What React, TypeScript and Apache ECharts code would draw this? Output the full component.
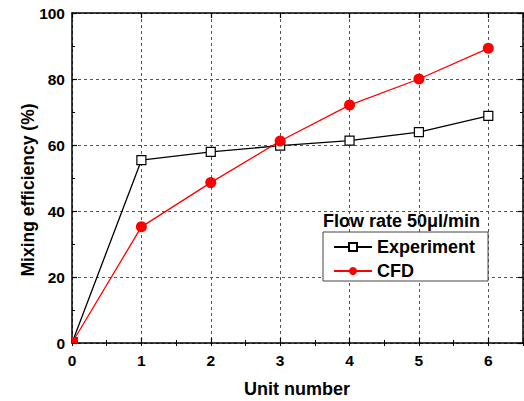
import React, { useEffect, useRef } from "react";
import * as echarts from "echarts";

const unitNumbers = [0, 1, 2, 3, 4, 5, 6];
const experiment = [0, 55.4, 57.9, 59.8, 61.3, 63.9, 68.8];
const cfd = [0, 35.2, 48.6, 61.2, 72.1, 80.0, 89.3];
const seriesNames = ["Experiment", "CFD"];
const legendTitle = "Flow rate 50\u03bcl/min";
const xTitle = "Unit number";
const yTitle = "Mixing efficiency (%)";

const FONT = "'Liberation Sans', Arial, sans-serif";

export default function App() {
  const ref = useRef<HTMLDivElement>(null);
  useEffect(() => {
    if (!ref.current) return;
    const chart = echarts.init(ref.current, null, { renderer: "svg" });
    const dashed = { show: true, lineStyle: { color: "#555", type: [3, 3] as any, width: 1 } };
    const axisLine = { show: true, onZero: false, lineStyle: { color: "#000", width: 1.5 } };
    const baseX = { type: "value" as const, min: 0, max: 6.5, interval: 1 };
    const minorX = { ...baseX, interval: 0.5, axisLine: { show: false }, axisLabel: { show: false }, splitLine: { show: false }, axisTick: { show: true, inside: true, length: 3, lineStyle: { color: "#000", width: 1 } } };
    const mk = (vals: number[], isCfd: boolean) =>
      unitNumbers.map((x, i) => {
        if (i === 0) {
          return isCfd
            ? { value: [x, vals[i]], symbol: "rect", symbolSize: 6, symbolOffset: [3, -3] }
            : { value: [x, vals[i]], symbol: "none" };
        }
        return { value: [x, vals[i]] };
      });
    chart.setOption({
      animation: false,
      grid: { left: 72, right: 1, top: 13, bottom: 58, containLabel: false },
      xAxis: [
        {
          ...baseX,
          position: "bottom",
          axisLine,
          axisTick: { show: true, inside: true, length: 5, lineStyle: { color: "#000", width: 1.2 } },
          axisLabel: { show: true, margin: 9, fontSize: 15.5, fontWeight: "bold", color: "#000", fontFamily: FONT, showMaxLabel: false },
          splitLine: dashed,
        },
        {
          ...baseX,
          position: "top",
          axisLine,
          axisTick: { show: true, inside: true, length: 5, lineStyle: { color: "#000", width: 1.2 } },
          axisLabel: { show: false },
          splitLine: { show: false },
        },
        { ...minorX, position: "bottom" },
        { ...minorX, position: "top" },
      ],
      yAxis: [
        {
          type: "value",
          min: 0,
          max: 100,
          interval: 20,
          position: "left",
          axisLine,
          axisTick: { show: true, inside: true, length: 5, lineStyle: { color: "#000", width: 1.2 } },
          minorTick: { show: true, splitNumber: 2, length: 3, lineStyle: { color: "#000", width: 1 } },
          axisLabel: { show: true, margin: 7, fontSize: 15.5, fontWeight: "bold", color: "#000", fontFamily: FONT },
          splitLine: dashed,
        },
        {
          type: "value",
          min: 0,
          max: 100,
          interval: 20,
          position: "right",
          axisLine,
          axisTick: { show: true, inside: true, length: 5, lineStyle: { color: "#000", width: 1.2 } },
          minorTick: { show: true, splitNumber: 2, length: 3, lineStyle: { color: "#000", width: 1 } },
          axisLabel: { show: false },
          splitLine: { show: false },
        },
      ],
      legend: {
        show: true,
        left: 323,
        top: 232,
        orient: "vertical",
        data: seriesNames,
        backgroundColor: "#fff",
        borderColor: "#444",
        borderWidth: 1,
        borderRadius: 0,
        padding: [5, 13, 0, 10],
        itemGap: 4,
        itemWidth: 38,
        itemHeight: 10,
        textStyle: { fontSize: 18, fontWeight: "bold", color: "#000", fontFamily: FONT, lineHeight: 20 },
      },
      graphic: [
        {
          type: "text",
          x: 323,
          y: 221,
          style: { text: legendTitle, fontSize: 18, fontWeight: "bold", fill: "#000", fontFamily: FONT, align: "left", verticalAlign: "middle" },
        },
        {
          type: "text",
          x: 297,
          y: 389,
          style: { text: xTitle, fontSize: 18, fontWeight: "bold", fill: "#000", fontFamily: FONT, align: "center", verticalAlign: "middle" },
        },
        {
          type: "text",
          x: 28,
          y: 190,
          rotation: Math.PI / 2,
          style: { text: yTitle, fontSize: 17.5, fontWeight: "bold", fill: "#000", fontFamily: FONT, align: "center", verticalAlign: "middle" },
        },
      ],
      series: [
        {
          name: seriesNames[0],
          type: "line",
          xAxisIndex: 0,
          yAxisIndex: 0,
          data: mk(experiment, false),
          symbol: "rect",
          symbolSize: 9,
          itemStyle: { color: "#fff", borderColor: "#000", borderWidth: 1.2 },
          lineStyle: { color: "#000", width: 1.3 },
          z: 3,
        },
        {
          name: seriesNames[1],
          type: "line",
          xAxisIndex: 0,
          yAxisIndex: 0,
          data: mk(cfd, true),
          symbol: "circle",
          symbolSize: 11,
          itemStyle: { color: "#ff0000", borderWidth: 0 },
          lineStyle: { color: "#ff0000", width: 1.3 },
          z: 4,
        },
      ],
    });
    return () => chart.dispose();
  }, []);
  return (
    <div
      ref={ref}
      style={{ position: "fixed", left: 0, top: 0, width: 524, height: 401, background: "#fff" }}
    />
  );
}
